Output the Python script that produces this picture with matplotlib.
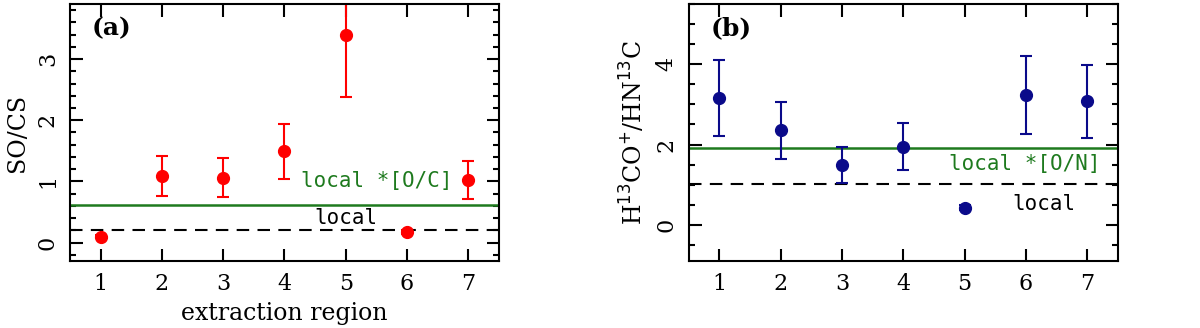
import matplotlib
matplotlib.use('Agg')
import matplotlib.pyplot as plt
from matplotlib.ticker import MultipleLocator
import numpy as np

# values
region = [1, 2, 3, 4, 5, 6, 7]
so_cs = [0.10, 1.09, 1.06, 1.49, 3.39, 0.17, 1.02]
so_cs_err = [0.03, 0.33, 0.32, 0.45, 1.01, 0.03, 0.31]
so_cs_local = 0.21
so_cs_local_oc = 0.62

hco_hnc = [3.16, 2.36, 1.50, 1.95, 0.43, 3.24, 3.08]
hco_hnc_err = [0.95, 0.71, 0.45, 0.58, 0.06, 0.97, 0.91]
hco_hnc_local = 1.02
hco_hnc_local_on = 1.92

plt.rcParams['font.family'] = 'DejaVu Serif'

fig = plt.figure(figsize=(12, 3.28), dpi=100)
ax1 = fig.add_axes([0.0583, 0.2043, 0.3575, 0.7837])
ax2 = fig.add_axes([0.574, 0.2043, 0.3575, 0.7837])


def style(ax, minor):
    ax.set_xlim(0.5, 7.5)
    ax.xaxis.set_major_locator(MultipleLocator(1))
    ax.yaxis.set_minor_locator(MultipleLocator(minor))
    ax.tick_params(which='both', direction='in', top=True, right=True,
                   width=1.5, labelsize=16)
    ax.tick_params(which='major', length=9)
    ax.tick_params(which='minor', length=4.5)
    ax.tick_params(axis='x', pad=9)
    ax.tick_params(axis='y', pad=8)
    for lab in ax.get_yticklabels():
        lab.set_rotation(90)
        lab.set_va('center')
    for s in ax.spines.values():
        s.set_linewidth(1.5)


# (a)
ax1.axhline(so_cs_local_oc, color='#1e7a1e', lw=1.8)
ax1.axhline(so_cs_local, color='black', lw=1.5, dashes=(6, 4))
ax1.errorbar(region, so_cs, yerr=so_cs_err, fmt='o', color='red',
             ms=8.5, capsize=4, elinewidth=1.5, capthick=1.5)
ax1.set_ylim(-0.3, 3.9)
ax1.set_yticks([0, 1, 2, 3])
style(ax1, 0.2)
ax1.set_ylabel('SO/CS', fontsize=17, labelpad=6)
ax1.set_xlabel('extraction region', fontsize=17, labelpad=5)
ax1.text(5.5, 1.0, 'local *[O/C]', color='#1e7a1e', fontsize=15,
         family='DejaVu Sans Mono', ha='center', va='center')
ax1.text(5.0, 0.40, 'local', color='black', fontsize=15,
         family='DejaVu Sans Mono', ha='center', va='center')
ax1.text(0.05, 0.905, '(a)', transform=ax1.transAxes, fontsize=18,
         fontweight='bold', ha='left', va='center')

# (b)
ax2.axhline(hco_hnc_local_on, color='#1e7a1e', lw=1.8)
ax2.axhline(hco_hnc_local, color='black', lw=1.5, dashes=(6, 4))
ax2.errorbar(region, hco_hnc, yerr=hco_hnc_err, fmt='o', color='#0a0a8a',
             ms=8.5, capsize=4, elinewidth=1.5, capthick=1.5)
ax2.set_ylim(-0.9, 5.5)
ax2.set_yticks([0, 2, 4])
style(ax2, 0.5)
ax2.set_ylabel(r'H$^{13}$CO$^{+}$/HN$^{13}$C', fontsize=17, labelpad=6)
ax2.text(5.98, 1.52, 'local *[O/N]', color='#1e7a1e', fontsize=15,
         family='DejaVu Sans Mono', ha='center', va='center')
ax2.text(6.29, 0.52, 'local', color='black', fontsize=15,
         family='DejaVu Sans Mono', ha='center', va='center')
ax2.text(0.05, 0.905, '(b)', transform=ax2.transAxes, fontsize=18,
         fontweight='bold', ha='left', va='center')

fig.savefig('out.png', dpi=100)
